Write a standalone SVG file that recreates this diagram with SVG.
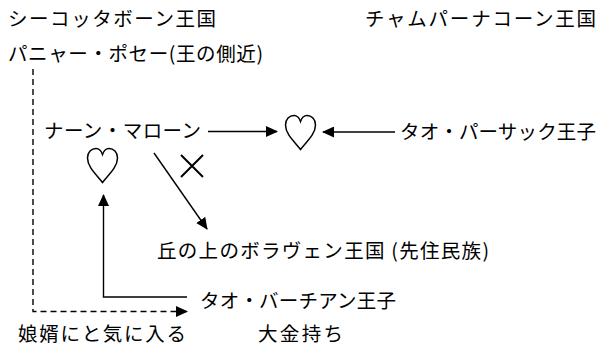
<svg xmlns="http://www.w3.org/2000/svg" xmlns:xlink="http://www.w3.org/1999/xlink" width="600" height="349" viewBox="0 0 600 349">
<style>
text{font-family:"Noto Sans CJK JP","Noto Sans",sans-serif;font-size:19.5px;fill:#000}
.ln{stroke:#000;stroke-width:1.4;fill:none}
.dash{stroke-dasharray:6 4}
.heart{fill:#fff;stroke:#000;stroke-width:1.5}
</style>
<defs>
<marker id="ah" viewBox="0 0 12 11" refX="11" refY="5.5" markerWidth="12" markerHeight="11" markerUnits="userSpaceOnUse" orient="auto">
<path d="M0,0 L12,5.5 L0,11 Z" fill="#000"/>
</marker>
<path id="heart" d="M15,34 C10,27 0,19 0,9.5 C0,3.5 4,0 8.5,0 C12,0 14,3 15,6 C16,3 18,0 21.5,0 C26,0 30,3.5 30,9.5 C30,19 20,27 15,34 Z"/>
</defs>
<g id="connectors">
<path class="ln dash" d="M33,69 V311.5 H187" marker-end="url(#ah)"/>
<path class="ln" d="M208,131.5 H277" marker-end="url(#ah)"/>
<path class="ln" d="M395,132 H323" marker-end="url(#ah)"/>
<path class="ln" d="M154,153 L207,229" marker-end="url(#ah)"/>
<path class="ln" d="M187,297 H103.5 V195" marker-end="url(#ah)"/>
</g>
<g id="cross">
<path d="M181,155 L203,177 M203,155 L181,177" stroke="#000" stroke-width="2"/>
</g>
<g id="heart-center"><use xlink:href="#heart" class="heart" x="285.5" y="115.5"/></g>
<g id="heart-left"><use xlink:href="#heart" class="heart" x="87.5" y="148.5"/></g>
<g id="seacotta"><text x="8" y="26" textLength="208" lengthAdjust="spacing">シーコッタボーン王国</text></g>
<g id="panya"><text x="8" y="61" textLength="255" lengthAdjust="spacing">パニャー・ポセー(王の側近)</text></g>
<g id="champa"><text x="365" y="26" textLength="231" lengthAdjust="spacing">チャムパーナコーン王国</text></g>
<g id="naan"><text x="44" y="138" textLength="157" lengthAdjust="spacing">ナーン・マローン</text></g>
<g id="paasak"><text x="400" y="139" textLength="196" lengthAdjust="spacing">タオ・パーサック王子</text></g>
<g id="bolaven"><text x="157" y="258" textLength="332" lengthAdjust="spacing">丘の上のボラヴェン王国 (先住民族)</text></g>
<g id="baachian"><text x="200" y="308" textLength="196" lengthAdjust="spacing">タオ・バーチアン王子</text></g>
<g id="label-musume"><text x="18" y="341" textLength="168" lengthAdjust="spacing">娘婿にと気に入る</text></g>
<g id="label-rich"><text x="258" y="341" textLength="85" lengthAdjust="spacing">大金持ち</text></g>
</svg>
